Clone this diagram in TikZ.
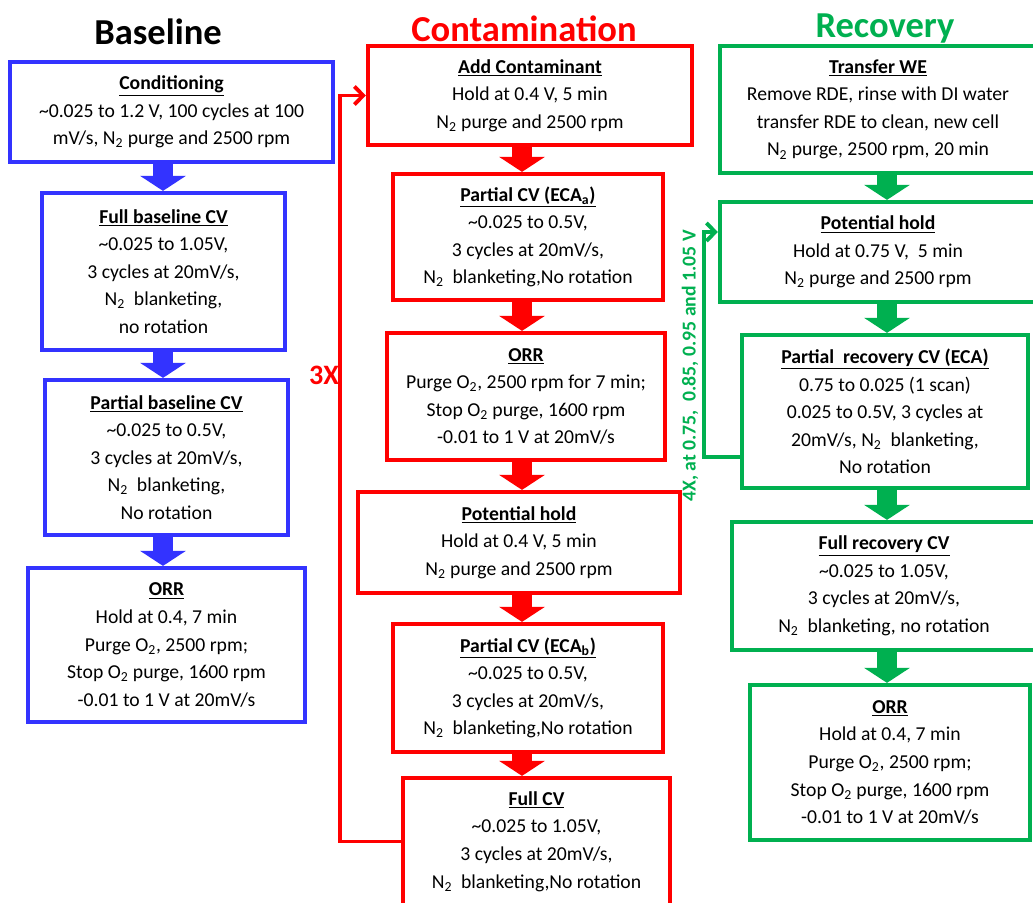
\documentclass[tikz,border=0pt]{standalone}
\usepackage{fontspec}
\setmainfont{Carlito}
\usetikzlibrary{arrows.meta, positioning, calc}
\tikzset{>=latex}
\definecolor{myblue}{RGB}{51,51,255}
\definecolor{myred}{RGB}{255,0,0}
\definecolor{mygreen}{RGB}{0,176,80}
\tikzset{
  step box/.style={rectangle, line width=3pt, align=center, inner sep=2pt,
    font=\fontsize{14}{19.6}\selectfont},
  blubox/.style={step box, draw=myblue},
  redbox/.style={step box, draw=myred},
  grnbox/.style={step box, draw=mygreen},
  flow/.style={-{Triangle[width=1.125cm,length=0.375cm]}, line width=0.5cm},
  loop/.style={-{Straight Barb[length=0.22cm,width=0.45cm]}, line width=2.7pt},
  coltitle/.style={font=\fontsize{26}{30}\selectfont\bfseries}
}

\begin{document}
\begin{tikzpicture}

\useasboundingbox (0,0) rectangle (25.825,-22.575);

% column titles
\node[coltitle] (tb) at (3.95,-0.8) {Baseline};
\node[coltitle, text=myred] (tc) at (13.1,-0.72) {Contamination};
\node[coltitle, text=mygreen] (tr) at (22.125,-0.72) {Recovery};

% Baseline
\node[blubox, minimum width=8.075cm, minimum height=2.5cm] (b1) at (4.2875,-2.8)
  {\textbf{\underline{Conditioning}}\\ \textasciitilde0.025 to 1.2 V, 100 cycles at 100\\ mV/s, N\textsubscript{2} purge and 2500 rpm};
\node[blubox, minimum width=6.075cm, minimum height=3.925cm] (b2) at (4.0875,-6.7875)
  {\textbf{\underline{Full baseline CV}}\\ \textasciitilde0.025 to 1.05V,\\ 3 cycles at 20mV/s,\\ N\textsubscript{2}~ blanketing,\\ no rotation};
\node[blubox, minimum width=6.075cm, minimum height=3.875cm] (b3) at (4.1625,-11.4375)
  {\textbf{\underline{Partial baseline CV}}\\ \textasciitilde0.025 to 0.5V,\\ 3 cycles at 20mV/s,\\ N\textsubscript{2}~ blanketing,\\ No rotation};
\node[blubox, minimum width=6.925cm, minimum height=3.85cm] (b4) at (4.1625,-16.125)
  {\textbf{\underline{ORR}}\\ Hold at 0.4, 7 min\\ Purge O\textsubscript{2}, 2500 rpm;\\ Stop O\textsubscript{2} purge, 1600 rpm\\ -0.01 to 1 V at 20mV/s};

% Contamination
\node[redbox, minimum width=8.1cm, minimum height=2.475cm] (c1) at (13.25,-2.3875)
  {\textbf{\underline{Add Contaminant}}\\ Hold at 0.4 V, 5 min\\ N\textsubscript{2} purge and 2500 rpm};
\node[redbox, minimum width=6.75cm, minimum height=3.15cm] (c2) at (13.2,-5.925)
  {\textbf{\underline{Partial CV (ECA\textsubscript{a})}}\\ \textasciitilde0.025 to 0.5V,\\ 3 cycles at 20mV/s,\\ N\textsubscript{2}~ blanketing,No rotation};
\node[redbox, minimum width=6.95cm, minimum height=3.175cm] (c3) at (13.15,-9.9125)
  {\textbf{\underline{ORR}}\\ Purge O\textsubscript{2}, 2500 rpm for 7 min;\\ Stop O\textsubscript{2} purge, 1600 rpm\\ -0.01 to 1 V at 20mV/s};
\node[redbox, minimum width=8.05cm, minimum height=2.525cm] (c4) at (12.975,-13.5625)
  {\textbf{\underline{Potential hold}}\\ Hold at 0.4 V, 5 min\\ N\textsubscript{2} purge and 2500 rpm};
\node[redbox, minimum width=6.75cm, minimum height=3.2cm] (c5) at (13.2,-17.2)
  {\textbf{\underline{Partial CV (ECA\textsubscript{b})}}\\ \textasciitilde0.025 to 0.5V,\\ 3 cycles at 20mV/s,\\ N\textsubscript{2}~ blanketing,No rotation};
\node[redbox, minimum width=6.675cm, minimum height=3.175cm] (c6) at (13.4125,-21.0375)
  {\textbf{\underline{Full CV}}\\ \textasciitilde0.025 to 1.05V,\\ 3 cycles at 20mV/s,\\ N\textsubscript{2}~ blanketing,No rotation};

% Recovery
\node[grnbox, minimum width=7.9cm, minimum height=3.175cm] (r1) at (21.95,-2.7375)
  {\textbf{\underline{Transfer WE}}\\ Remove RDE, rinse with DI water\\ transfer RDE to clean, new cell\\ N\textsubscript{2} purge, 2500 rpm, 20 min};
\node[grnbox, minimum width=7.9cm, minimum height=2.5cm] (r2) at (21.95,-6.3)
  {\textbf{\underline{Potential hold}}\\ Hold at 0.75 V,~ 5 min\\ N\textsubscript{2} purge and 2500 rpm};
\node[grnbox, minimum width=7.15cm, minimum height=3.825cm] (r3) at (22.125,-10.2875)
  {\textbf{\underline{Partial~ recovery CV (ECA)}}\\ 0.75 to 0.025 (1 scan)\\ 0.025 to 0.5V, 3 cycles at\\ 20mV/s, N\textsubscript{2}~ blanketing,\\ No rotation};
\node[grnbox, minimum width=7.6cm, minimum height=3.2cm] (r4) at (22.1,-14.65)
  {\textbf{\underline{Full recovery CV}}\\ \textasciitilde0.025 to 1.05V,\\ 3 cycles at 20mV/s,\\ N\textsubscript{2}~ blanketing, no rotation};
\node[grnbox, minimum width=7.0cm, minimum height=3.875cm] (r5) at (22.25,-19.0625)
  {\textbf{\underline{ORR}}\\ Hold at 0.4, 7 min\\ Purge O\textsubscript{2}, 2500 rpm;\\ Stop O\textsubscript{2} purge, 1600 rpm\\ -0.01 to 1 V at 20mV/s};

% block arrows
\coordinate (bx) at (4.075,0);
\coordinate (cx) at (13.05,0);
\coordinate (rx) at (22.175,0);
\foreach \a/\b in {b1/b2, b2/b3, b3/b4}
  \draw[flow, draw=myblue] (\a.south -| bx) -- (\b.north -| bx);
\foreach \a/\b in {c1/c2, c2/c3, c3/c4, c4/c5, c5/c6}
  \draw[flow, draw=myred] (\a.south -| cx) -- (\b.north -| cx);
\foreach \a/\b in {r1/r2, r2/r3, r3/r4, r4/r5}
  \draw[flow, draw=mygreen] (\a.south -| rx) -- (\b.north -| rx);

% repeat loops
\draw[loop, draw=myred] (c6.west) -- ++(-1.525,0) |- (c1.west);
\node[font=\fontsize{20}{24}\selectfont\bfseries, text=myred] (rep3) at (8.1,-9.375) {3X};

\coordinate (gs) at ([yshift=-1.1375cm]r3.west);
\coordinate (ge) at ([yshift=0.5cm]r2.west);
\draw[loop, draw=mygreen] (gs) -- ++(-0.9,0) |- (ge);
\node[rotate=90, font=\fontsize{14}{16}\selectfont\bfseries, text=mygreen] (rep4) at (17.25,-9.15)
  {4X, at 0.75,~ 0.85, 0.95 and 1.05 V};

\end{tikzpicture}
\end{document}
